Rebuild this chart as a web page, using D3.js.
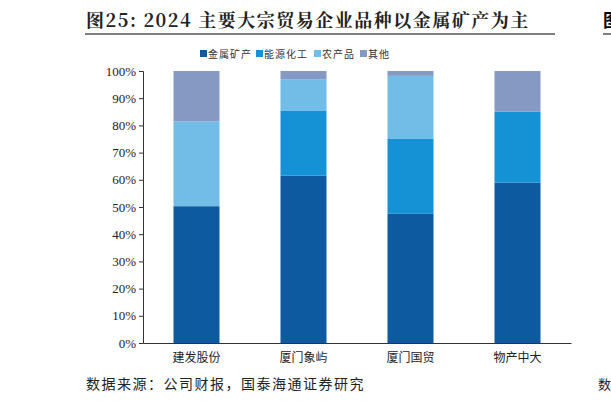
<!DOCTYPE html><html><head><meta charset="utf-8"><script src="https://d3js.org/d3.v7.min.js"></script>
<style>body{margin:0;background:#fff}</style></head><body><svg id="c" width="611" height="408"></svg>
<script>
const categories=["建发股份","厦门象屿","厦门国贸","物产中大"];
const seriesNames=["金属矿产","能源化工","农产品","其他"];
const metal=[50.3,61.5,47.5,59.0];
const energy=[0,24.0,27.7,26.0];
const agri=[31.2,11.5,23.0,0];
const other=[18.5,3.0,1.8,15.0];
const yTicks=[0,10,20,30,40,50,60,70,80,90,100];
const colors=["#0e5aa0","#1591d6","#72bde8","#8599c3"];
const svg=d3.select("#c");
const font="'Noto Sans CJK SC',sans-serif";
svg.append("text").attr("x",86).attr("y",27).attr("font-family","'Noto Serif CJK SC','Noto Sans CJK SC',serif").attr("font-weight","bold").attr("font-size",18).attr("letter-spacing",1.5).attr("fill","#222").text("图25:  2024 主要大宗贸易企业品种以金属矿产为主");
svg.append("line").attr("x1",85).attr("x2",555).attr("y1",34).attr("y2",34).attr("stroke","#555").attr("stroke-width",1.5);
svg.append("text").attr("x",603).attr("y",27).attr("font-family",font).attr("font-weight","bold").attr("font-size",18).text("图");
svg.append("line").attr("x1",603).attr("x2",611).attr("y1",34).attr("y2",34).attr("stroke","#555").attr("stroke-width",1.5);
const x=d3.scaleBand().domain(categories).range([143,571]).paddingInner(0.57).paddingOuter(0.285);
const y=d3.scaleLinear().domain([0,100]).range([343,71]);
const data=categories.map((c,i)=>({cat:c,"金属矿产":metal[i],"能源化工":energy[i],"农产品":agri[i],"其他":other[i]}));
const stack=d3.stack().keys(seriesNames)(data);
svg.append("g").selectAll("g").data(stack).join("g").attr("fill",(d,i)=>colors[i])
 .selectAll("rect").data(d=>d).join("rect").attr("x",d=>x(d.data.cat)).attr("width",x.bandwidth())
 .attr("y",d=>y(d[1])).attr("height",d=>y(d[0])-y(d[1]));
const ya=svg.append("g").attr("transform","translate(143,0)").call(d3.axisLeft(y).tickValues(yTicks).tickFormat(d=>d+"%").tickSize(4));
ya.selectAll("text").attr("font-family","'Times New Roman','Liberation Serif',serif").attr("font-size",13).attr("fill","#222");
ya.selectAll("path,line").attr("stroke","#333");
const xa=svg.append("g").attr("transform","translate(0,343)").call(d3.axisBottom(x).tickSize(0));
xa.select("path").attr("stroke","#333");
xa.selectAll("text").attr("font-family",font).attr("font-size",12).attr("fill","#222").attr("dy","1.3em");
const lg=svg.append("g");
const lx=[200,256,314,360];
seriesNames.forEach((n,i)=>{
 lg.append("rect").attr("x",lx[i]).attr("y",50).attr("width",7).attr("height",7).attr("fill",colors[i]);
 lg.append("text").attr("x",lx[i]+8).attr("y",57.5).attr("font-family",font).attr("font-size",10).attr("letter-spacing",1).attr("fill","#333").text(n);
});
svg.append("text").attr("x",86).attr("y",389).attr("font-family",font).attr("font-size",14).attr("letter-spacing",1.5).attr("fill","#222").text("数据来源：公司财报，国泰海通证券研究");
svg.append("text").attr("x",598).attr("y",389).attr("font-family",font).attr("font-size",13).attr("fill","#222").text("数");
</script></body></html>
